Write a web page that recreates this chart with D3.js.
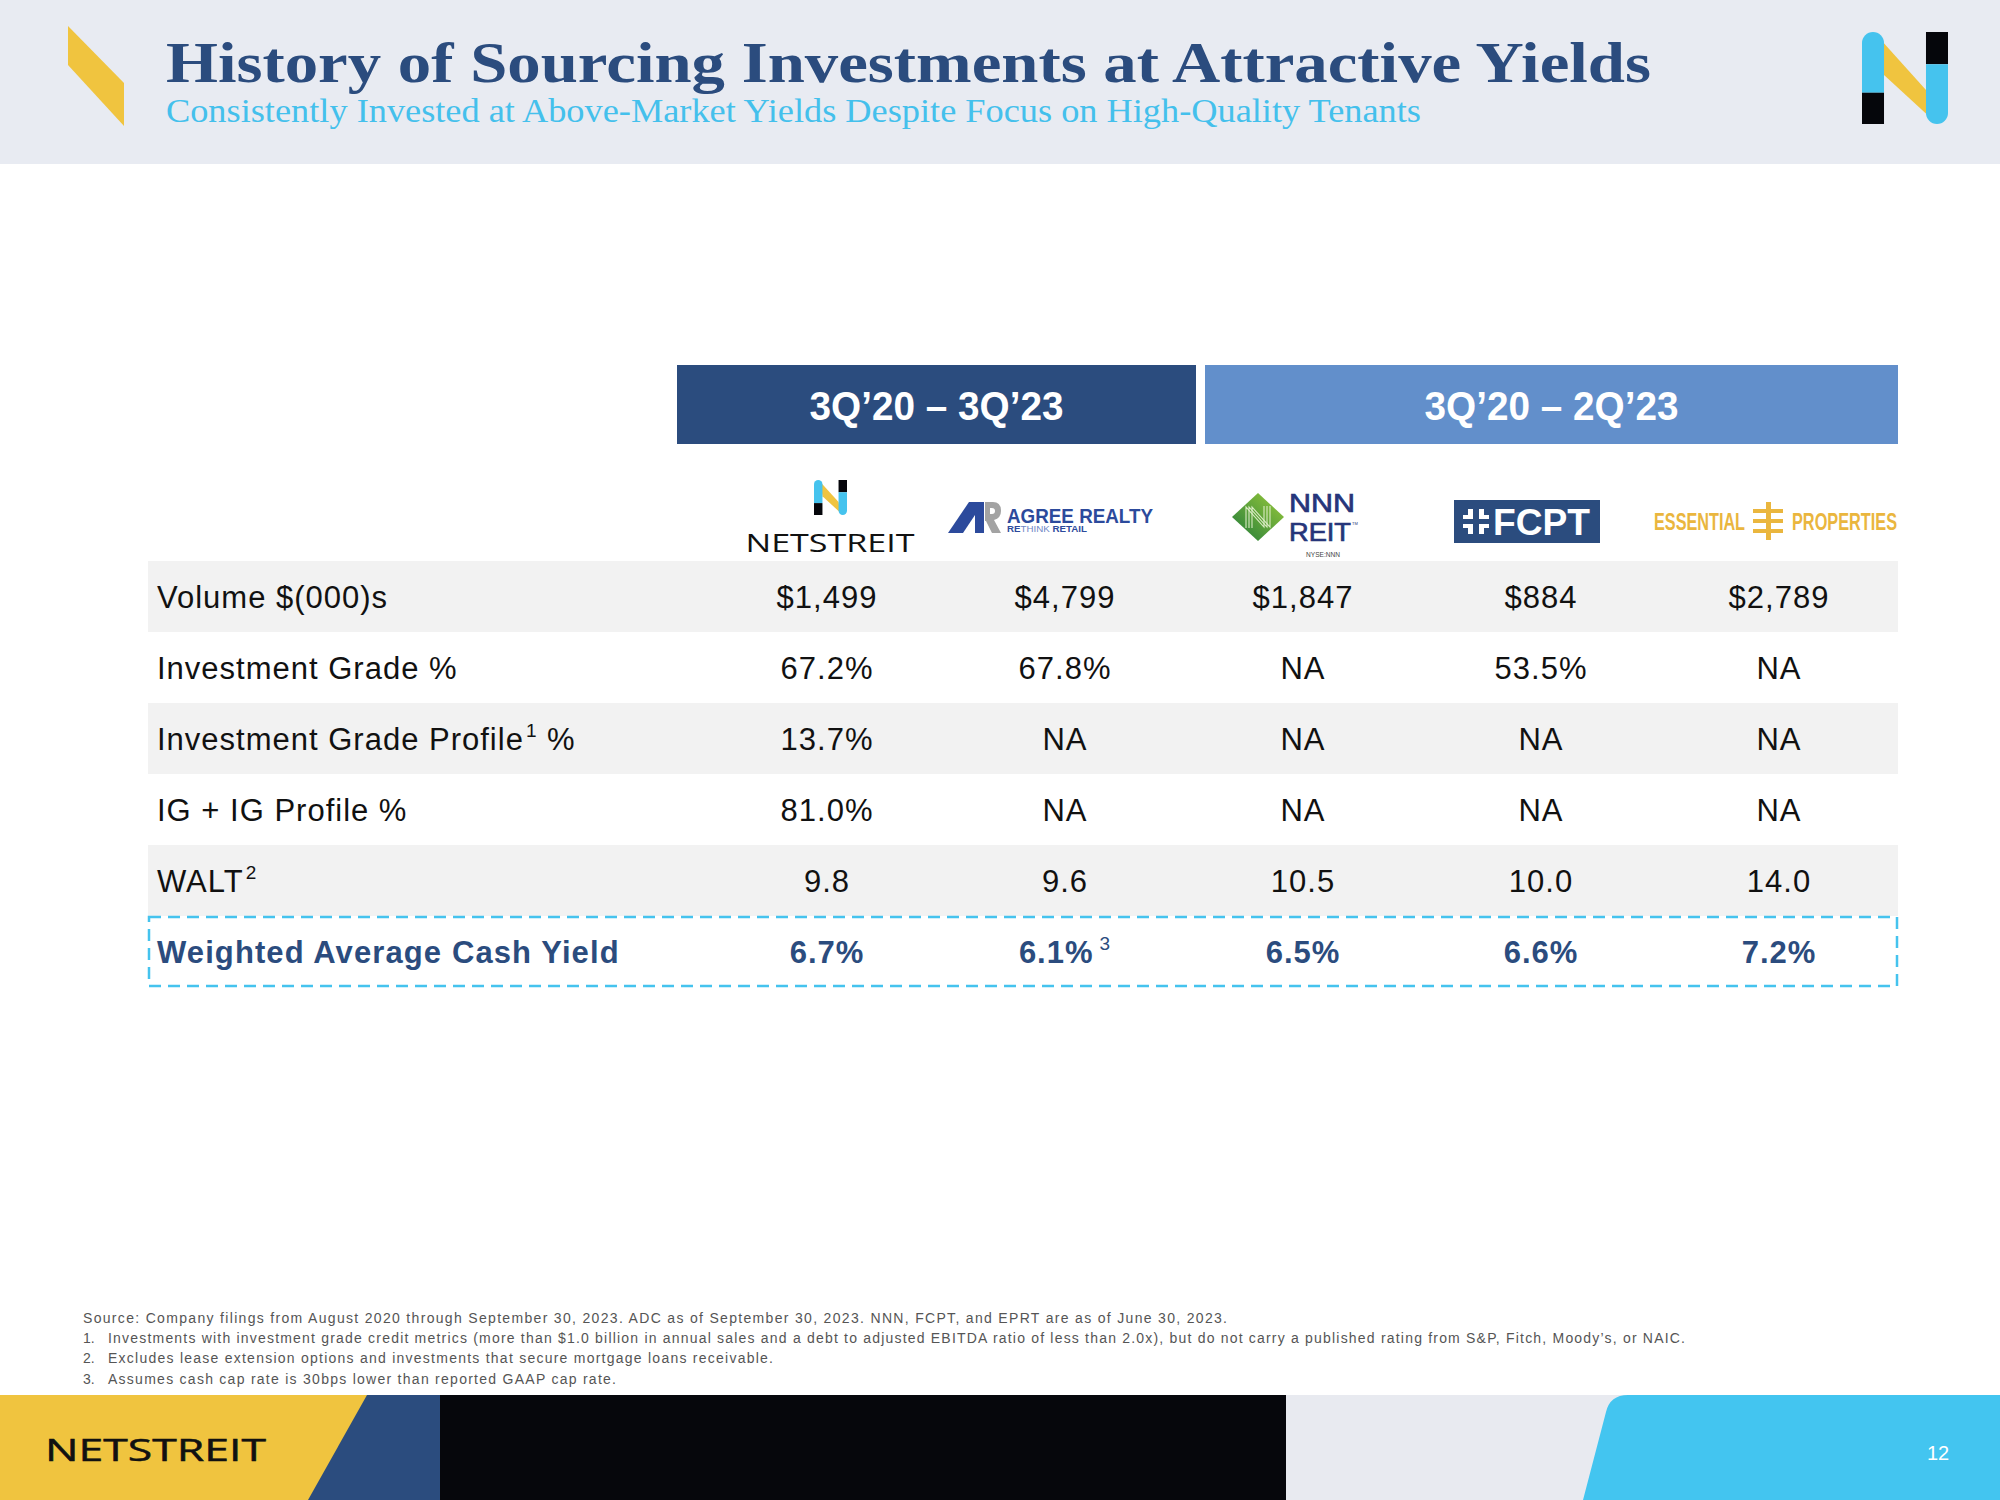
<!DOCTYPE html>
<html>
<head>
<meta charset="utf-8">
<script src="https://cdn.jsdelivr.net/npm/d3@7"></script>
<style>
  html, body { margin: 0; padding: 0; background: #ffffff; }
  svg { display: block; }
</style>
</head>
<body>
<div id="chart"></div>
<script>
// ---------------- DATA ----------------
const titleText = "History of Sourcing Investments at Attractive Yields";
const subtitleText = "Consistently Invested at Above-Market Yields Despite Focus on High-Quality Tenants";

const companies = ["NETSTREIT", "Agree Realty", "NNN REIT", "FCPT", "Essential Properties"];
const periodLabels = ["3Q\u201920 \u2013 3Q\u201923", "3Q\u201920 \u2013 2Q\u201923"];
const periodFirstCompany = ["NETSTREIT", "NNN REIT"];
const periodLastCompany = ["Agree Realty", "Essential Properties"];

const metricLabels = ["Volume $(000)s", "Investment Grade %", "Investment Grade Profile", "IG + IG Profile %", "WALT", "Weighted Average Cash Yield"];
const metricSup = ["", "", "1", "", "2", ""];
const metricSuffix = ["", "", " %", "", "", ""];

const volume = [1499, 4799, 1847, 884, 2789];
const investmentGrade = [67.2, 67.8, null, 53.5, null];
const igProfile = [13.7, null, null, null, null];
const igPlusProfile = [81.0, null, null, null, null];
const walt = [9.8, 9.6, 10.5, 10.0, 14.0];
const cashYield = [6.7, 6.1, 6.5, 6.6, 7.2];
const cashYieldNotes = ["", "3", "", "", ""];

const footnotes = [
  "Source: Company filings from August 2020 through September 30, 2023. ADC as of September 30, 2023. NNN, FCPT, and EPRT are as of June 30, 2023.",
  "Investments with investment grade credit metrics (more than $1.0 billion in annual sales and a debt to adjusted EBITDA ratio of less than 2.0x), but do not carry a published rating from S&P, Fitch, Moody\u2019s, or NAIC.",
  "Excludes lease extension options and investments that secure mortgage loans receivable.",
  "Assumes cash cap rate is 30bps lower than reported GAAP cap rate."
];
const footnoteMarks = ["", "1.", "2.", "3."];
const pageNumber = "12";

// ---------------- SETUP ----------------
const W = 2000, H = 1500;
const svg = d3.select("#chart").append("svg").attr("width", W).attr("height", H)
  .attr("viewBox", `0 0 ${W} ${H}`);

const NAVY = "#2B4C7E", LIGHTBLUE = "#628FCB", CYAN = "#45C3EE", YELLOW = "#F0C43F";
const SANS = "'Liberation Sans', Arial, sans-serif";
const SERIF = "'Liberation Serif', 'Times New Roman', serif";

const defs = svg.append("defs");
const grad = defs.append("linearGradient").attr("id", "nnnGrad")
  .attr("x1", "0").attr("y1", "1").attr("x2", "1").attr("y2", "0");
grad.append("stop").attr("offset", "0%").attr("stop-color", "#1F7A3A");
grad.append("stop").attr("offset", "100%").attr("stop-color", "#9CCB3B");

// ---------------- HEADER ----------------
svg.append("rect").attr("x", 0).attr("y", 0).attr("width", W).attr("height", 164).attr("fill", "#E8EBF2");
svg.append("polygon").attr("points", "68,26 68,65 124,126 124,83").attr("fill", YELLOW);

svg.append("text").attr("x", 166).attr("y", 82)
  .attr("font-family", SERIF).attr("font-weight", "bold").attr("font-size", 58)
  .attr("fill", NAVY).attr("textLength", 1485).attr("lengthAdjust", "spacingAndGlyphs")
  .text(titleText);
svg.append("text").attr("x", 166).attr("y", 122)
  .attr("font-family", SERIF).attr("font-size", 33)
  .attr("fill", "#44C0EC").attr("textLength", 1255).attr("lengthAdjust", "spacingAndGlyphs")
  .text(subtitleText);

function drawN(g, x, y, w, h) {
  const bw = w * 0.256, r = bw / 2;
  const X = t => x + t * w, Y = t => y + t * h;
  g.append("polygon")
    .attr("points", [[0.2, 0.065], [0.744, 0.63], [0.8, 0.935], [0.256, 0.467]].map(p => [X(p[0]), Y(p[1])].join(",")).join(" "))
    .attr("fill", YELLOW);
  g.append("path").attr("d", `M${x},${y + r} A${r},${r} 0 0 1 ${x + bw},${y + r} L${x + bw},${Y(0.66)} L${x},${Y(0.66)} Z`).attr("fill", CYAN);
  g.append("rect").attr("x", x).attr("y", Y(0.66)).attr("width", bw).attr("height", h * 0.34).attr("fill", "#05060B");
  const rx = x + w - bw;
  g.append("rect").attr("x", rx).attr("y", y).attr("width", bw).attr("height", h * 0.35).attr("fill", "#05060B");
  g.append("path").attr("d", `M${rx},${Y(0.35)} L${rx + bw},${Y(0.35)} L${rx + bw},${y + h - r} A${r},${r} 0 0 1 ${rx},${y + h - r} Z`).attr("fill", CYAN);
}
drawN(svg.append("g"), 1862, 32, 86, 92);

// ---------------- TABLE ----------------
const x = d3.scaleBand().domain(companies).range([708, 1898]).padding(0);
const y = d3.scaleBand().domain(metricLabels).range([561, 987]).padding(0);
const bw = x.bandwidth(), rh = y.bandwidth();
const tableLeft = 148, tableRight = 1898;

const fmtVol = d3.format("$,");
const fmtPct = v => v == null ? "NA" : d3.format(".1f")(v) + "%";
const fmtNum = v => v == null ? "NA" : d3.format(".1f")(v);

const rowsData = [
  volume.map(v => ({ text: fmtVol(v) })),
  investmentGrade.map(v => ({ text: fmtPct(v) })),
  igProfile.map(v => ({ text: fmtPct(v) })),
  igPlusProfile.map(v => ({ text: fmtPct(v) })),
  walt.map(v => ({ text: fmtNum(v) })),
  cashYield.map((v, i) => ({ text: fmtPct(v), sup: cashYieldNotes[i] }))
];

const periodBox = [
  { x0: x(periodFirstCompany[0]) - 31, x1: x(periodLastCompany[0]) + bw + 12, fill: NAVY },
  { x0: x(periodFirstCompany[1]) + 21, x1: x(periodLastCompany[1]) + bw, fill: LIGHTBLUE }
];
const hdr = svg.append("g");
periodLabels.forEach((lab, i) => {
  const b = periodBox[i];
  hdr.append("rect").attr("x", b.x0).attr("y", 365).attr("width", b.x1 - b.x0).attr("height", 79).attr("fill", b.fill);
  hdr.append("text").attr("x", (b.x0 + b.x1) / 2).attr("y", 420).attr("text-anchor", "middle")
    .attr("font-family", SANS).attr("font-weight", "bold").attr("font-size", 40).attr("fill", "#fff")
    .attr("textLength", 254).attr("lengthAdjust", "spacingAndGlyphs")
    .text(lab);
});

const rowsG = svg.append("g");
metricLabels.forEach((m, i) => {
  if (i % 2 === 0 && i < 5) {
    rowsG.append("rect").attr("x", tableLeft).attr("y", y(m)).attr("width", tableRight - tableLeft).attr("height", rh).attr("fill", "#F2F2F2");
  }
});
const lastM = metricLabels[5];
rowsG.append("rect").attr("x", tableLeft + 1).attr("y", y(lastM) + 1).attr("width", tableRight - tableLeft - 2).attr("height", rh - 2)
  .attr("fill", "none").attr("stroke", CYAN).attr("stroke-width", 2.5).attr("stroke-dasharray", "12,7");

metricLabels.forEach((m, i) => {
  const isLast = i === 5;
  const t = rowsG.append("text").attr("x", 157).attr("y", y(m) + rh / 2 + 11)
    .attr("font-family", SANS).attr("font-size", 31)
    .attr("letter-spacing", isLast ? 1.1 : 1)
    .attr("font-weight", isLast ? "bold" : "normal")
    .attr("fill", isLast ? NAVY : "#111");
  t.append("tspan").text(m);
  if (metricSup[i]) {
    t.append("tspan").attr("dx", 2).attr("dy", -13).attr("font-size", 19).text(metricSup[i]);
    if (metricSuffix[i]) t.append("tspan").attr("dy", 13).text(metricSuffix[i]);
  }
});

rowsData.forEach((row, ri) => {
  const m = metricLabels[ri];
  const isLast = ri === 5;
  row.forEach((cell, ci) => {
    const t = rowsG.append("text").attr("x", x(companies[ci]) + bw / 2).attr("y", y(m) + rh / 2 + 11)
      .attr("text-anchor", "middle").attr("font-family", SANS).attr("font-size", 31)
      .attr("letter-spacing", 1)
      .attr("font-weight", isLast ? "bold" : "normal")
      .attr("fill", isLast ? NAVY : "#111");
    t.append("tspan").text(cell.text);
    if (cell.sup) t.append("tspan").attr("dx", 6).attr("dy", -13).attr("font-size", 19).attr("font-weight", "normal").text(cell.sup);
  });
});

// ---------------- LOGOS ----------------
const logos = svg.append("g");
const cx = c => x(c) + bw / 2;

drawN(logos.append("g"), cx("NETSTREIT") - 13, 480, 33, 35);
logos.append("text").attr("x", cx("NETSTREIT") + 3).attr("y", 552).attr("text-anchor", "middle")
  .attr("font-family", "'Open Sans', Lato, sans-serif").attr("font-size", 25).attr("fill", "#111")
  .attr("textLength", 169).attr("lengthAdjust", "spacingAndGlyphs").text("NETSTREIT");

{
  const ox = cx("Agree Realty") - 117;
  const g = logos.append("g").attr("transform", `translate(${ox},502)`);
  g.append("polygon").attr("points", "0,31 21,0 36,0 36,31").attr("fill", "#2C4A9C");
  g.append("polygon").attr("points", "15,31 27,13 27,31").attr("fill", "#fff");
  g.append("path").attr("d", "M37,0 L45,0 Q53,0 53,9 Q53,16 46,18 L53,31 L44,31 L38,19 L37,19 Z").attr("fill", "#A3A3A3");
  g.append("path").attr("d", "M42,6 L44,6 Q47,6 47,9 Q47,12 44,12 L42,12 Z").attr("fill", "#fff");
  g.append("text").attr("x", 59).attr("y", 21).attr("font-family", SANS).attr("font-weight", "bold")
    .attr("font-size", 21).attr("fill", "#2C4A9C").attr("textLength", 146).attr("lengthAdjust", "spacingAndGlyphs").text("AGREE REALTY");
  const t = g.append("text").attr("x", 59).attr("y", 30).attr("font-family", SANS).attr("font-size", 9)
    .attr("fill", "#2C4A9C").attr("textLength", 80).attr("lengthAdjust", "spacingAndGlyphs");
  t.append("tspan").attr("font-weight", "bold").text("RE");
  t.append("tspan").attr("fill", "#6F86C6").text("THINK ");
  t.append("tspan").attr("font-weight", "bold").text("RETAIL");
}

{
  const ox = cx("NNN REIT") - 45;
  const g = logos.append("g");
  g.append("polygon").attr("points", `${ox - 26},517 ${ox},493 ${ox + 26},517 ${ox},541`).attr("fill", "url(#nnnGrad)");
  [-3, 0, 3].forEach(d => {
    g.append("polyline").attr("points", `${ox - 9 + d},528 ${ox - 9 + d},507 ${ox + 9 + d},527 ${ox + 9 + d},506`)
      .attr("fill", "none").attr("stroke", "#E6F2D0").attr("stroke-width", 1.1).attr("opacity", 0.9);
  });
  const nt = g.append("text").attr("font-family", SANS).attr("font-size", 25).attr("fill", "#26357A")
    .attr("stroke", "#26357A").attr("stroke-width", 0.7);
  nt.append("tspan").attr("x", ox + 31).attr("y", 512).attr("textLength", 66).attr("lengthAdjust", "spacingAndGlyphs").text("NNN");
  nt.append("tspan").attr("x", ox + 31).attr("y", 541).attr("textLength", 62).attr("lengthAdjust", "spacingAndGlyphs").text("REIT");
  nt.append("tspan").attr("dx", 1).attr("dy", -16).attr("font-size", 4).attr("stroke-width", 0).text("TM");
  g.append("text").attr("x", ox + 48).attr("y", 557).attr("font-family", SANS).attr("font-size", 8)
    .attr("fill", "#444").attr("textLength", 34).attr("lengthAdjust", "spacingAndGlyphs").text("NYSE:NNN");
}

{
  const ox = cx("FCPT") - 87;
  const g = logos.append("g").attr("transform", `translate(${ox},500)`);
  g.append("rect").attr("width", 146).attr("height", 43).attr("fill", "#2B4C7E");
  g.append("rect").attr("x", 14).attr("y", 9).attr("width", 5).attr("height", 25).attr("fill", "#fff");
  g.append("rect").attr("x", 25).attr("y", 9).attr("width", 5).attr("height", 25).attr("fill", "#fff");
  g.append("rect").attr("x", 9).attr("y", 15).attr("width", 26).attr("height", 4).attr("fill", "#fff");
  g.append("rect").attr("x", 9).attr("y", 24).attr("width", 26).attr("height", 4).attr("fill", "#fff");
  g.append("rect").attr("x", 19).attr("y", 9).attr("width", 6).attr("height", 25).attr("fill", "#2B4C7E");
  g.append("rect").attr("x", 9).attr("y", 19).attr("width", 26).attr("height", 5).attr("fill", "#2B4C7E");
  g.append("text").attr("x", 39).attr("y", 35).attr("font-family", SANS).attr("font-weight", "bold").attr("font-size", 37)
    .attr("fill", "#fff").attr("textLength", 97).attr("lengthAdjust", "spacingAndGlyphs").text("FCPT");
}

{
  const GOLD = "#EAB63E";
  const g = logos.append("g");
  const ox = cx("Essential Properties") - 125;
  g.append("text").attr("x", ox).attr("y", 530).attr("font-family", SANS).attr("font-weight", "bold").attr("font-size", 23)
    .attr("fill", GOLD).attr("textLength", 91).attr("lengthAdjust", "spacingAndGlyphs").text("ESSENTIAL");
  g.append("rect").attr("x", ox + 112).attr("y", 502).attr("width", 5).attr("height", 38).attr("fill", GOLD);
  [509, 519, 529].forEach(yy => {
    g.append("rect").attr("x", ox + 99).attr("y", yy).attr("width", 13).attr("height", 4).attr("fill", GOLD);
    g.append("rect").attr("x", ox + 117).attr("y", yy).attr("width", 12).attr("height", 4).attr("fill", GOLD);
  });
  g.append("text").attr("x", ox + 138).attr("y", 530).attr("font-family", SANS).attr("font-weight", "bold").attr("font-size", 23)
    .attr("fill", GOLD).attr("textLength", 105).attr("lengthAdjust", "spacingAndGlyphs").text("PROPERTIES");
}

// ---------------- FOOTNOTES ----------------
const fnG = svg.append("g").attr("font-family", SANS).attr("font-size", 14).attr("fill", "#555");
const fnBase = [1323, 1343, 1363, 1384];
const fnEnd = [1227, 1685, 773, 616];
footnotes.forEach((f, i) => {
  const start = footnoteMarks[i] ? 108 : 83;
  if (footnoteMarks[i]) fnG.append("text").attr("x", 83).attr("y", fnBase[i]).text(footnoteMarks[i]);
  fnG.append("text").attr("x", start).attr("y", fnBase[i])
    .attr("textLength", fnEnd[i] - start).attr("lengthAdjust", "spacing").text(f);
});

// ---------------- FOOTER ----------------
const ft = svg.append("g");
ft.append("rect").attr("x", 0).attr("y", 1395).attr("width", W).attr("height", 105).attr("fill", "#E8EAF0");
ft.append("rect").attr("x", 300).attr("y", 1395).attr("width", 986).attr("height", 105).attr("fill", "#06070C");
ft.append("polygon").attr("points", "300,1395 440,1395 440,1500 300,1500").attr("fill", NAVY);
ft.append("polygon").attr("points", "0,1395 367,1395 308,1500 0,1500").attr("fill", YELLOW);
ft.append("path").attr("d", "M1583,1500 L1606,1412 Q1610,1395 1628,1395 L2000,1395 L2000,1500 Z").attr("fill", "#43C5F0");
ft.append("text").attr("x", 45).attr("y", 1461).attr("font-family", "'Open Sans', Lato, sans-serif").attr("font-size", 31)
  .attr("fill", "#111").attr("stroke", "#111").attr("stroke-width", 0.5)
  .attr("textLength", 221).attr("lengthAdjust", "spacingAndGlyphs").text("NETSTREIT");
ft.append("text").attr("x", 1938).attr("y", 1460).attr("text-anchor", "middle").attr("font-family", SANS).attr("font-size", 20)
  .attr("fill", "#fff").text(pageNumber);
</script>
</body>
</html>
